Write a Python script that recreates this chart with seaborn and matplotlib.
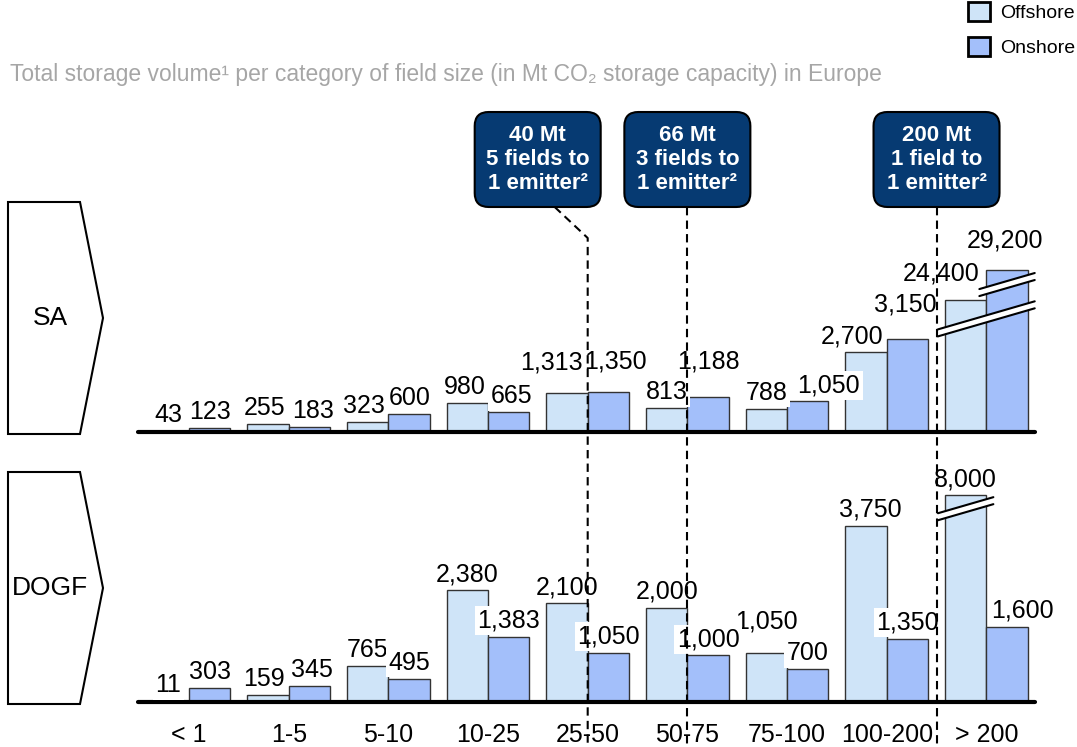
import numpy as np
import pandas as pd
import matplotlib.pyplot as plt
import seaborn as sns
from matplotlib.patches import Polygon, FancyBboxPatch, Patch
from matplotlib.lines import Line2D
from matplotlib.transforms import IdentityTransform

categories = ["< 1", "1-5", "5-10", "10-25", "25-50", "50-75", "75-100", "100-200", "> 200"]
sa_offshore = [43, 255, 323, 980, 1313, 813, 788, 2700, 24400]
sa_onshore = [123, 183, 600, 665, 1350, 1188, 1050, 3150, 29200]
dogf_offshore = [11, 159, 765, 2380, 2100, 2000, 1050, 3750, 8000]
dogf_onshore = [303, 345, 495, 1383, 1050, 1000, 700, 1350, 1600]

# bars of the "> 200" group are drawn cut (axis break), at these heights
sa_cap = {"Offshore": 4480, "Onshore": 5490}
dogf_cap = {"Offshore": 4400, "Onshore": 1e9}

callout_text = ["40 Mt\n5 fields to\n1 emitter\u00b2",
                "66 Mt\n3 fields to\n1 emitter\u00b2",
                "200 Mt\n1 field to\n1 emitter\u00b2"]
callout_pos = [4, 5, 7.5]

title = ("Total storage volume\u00b9 per category of field size "
         "(in Mt CO\u2082 storage capacity) in Europe")

colors = {"Offshore": "#cfe4f8", "Onshore": "#a3bffa"}
navy = "#063a72"

sns.set_theme(style="white")
plt.rcParams["font.family"] = ["Liberation Sans", "DejaVu Sans"]
plt.rcParams["text.color"] = "black"
plt.rcParams["xtick.color"] = "black"

W, H = 1077, 747
fig = plt.figure(figsize=(W / 100, H / 100), dpi=100)
ID = IdentityTransform()


def px_axes(left, top, right, bottom):
    return fig.add_axes([left / W, 1 - bottom / H, (right - left) / W, (bottom - top) / H])


def long_frame(off, on, cap):
    rows = []
    for kind, vals in (("Offshore", off), ("Onshore", on)):
        for c, v in zip(categories, vals):
            rows.append({"Category": c, "Type": kind, "Value": v, "Shown": min(v, cap[kind])})
    return pd.DataFrame(rows)


# label nudges in px (dx, dy up)
nudges = {
    ("SA", "Offshore", "1-5"): (-3, 0), ("SA", "Onshore", "1-5"): (4, 0),
    ("SA", "Offshore", "5-10"): (-4, 0), ("SA", "Onshore", "5-10"): (1, 0),
    ("SA", "Offshore", "10-25"): (-3, 0), ("SA", "Onshore", "10-25"): (3, 0),
    ("SA", "Offshore", "25-50"): (-16, 15), ("SA", "Onshore", "25-50"): (7, 15),
    ("SA", "Onshore", "50-75"): (0, 19), ("SA", "Onshore", "75-100"): (21, 0),
    ("SA", "Offshore", "100-200"): (-14, 0), ("SA", "Onshore", "100-200"): (-2, 19),
    ("SA", "Offshore", "> 200"): (-25, 10), ("SA", "Onshore", "> 200"): (-2, 14),
    ("DOGF", "Offshore", "1-5"): (-4, 0), ("DOGF", "Onshore", "1-5"): (3, 0),
    ("DOGF", "Offshore", "75-100"): (0, 15), ("DOGF", "Onshore", "> 200"): (15, 0),
    ("DOGF", "Offshore", "100-200"): (4, 0),
}

panels = [("SA", sa_offshore, sa_onshore, sa_cap, 432, 7000, 0.0295),
          ("DOGF", dogf_offshore, dogf_onshore, dogf_cap, 702, 5000, 0.047)]
axes = {}
for name, off, on, cap, base, ymax, scale in panels:
    ax = px_axes(138, base - ymax * scale, 1035, base)
    df = long_frame(off, on, cap)
    sns.barplot(data=df, x="Category", y="Shown", hue="Type", palette=colors,
                saturation=1, width=0.83, edgecolor="#333333", linewidth=1,
                legend=False, ax=ax)
    ax.set_xlim(-0.512, 8.488)
    ax.set_ylim(0, ymax)
    ax.axhline(0, color="black", lw=3, clip_on=False, zorder=5)
    for s in ax.spines.values():
        s.set_visible(False)
    ax.set_yticks([])
    ax.set_xlabel("")
    ax.set_ylabel("")
    ax.patch.set_alpha(0)
    if name == "DOGF":
        ax.set_xticks(range(len(categories)))
        ax.set_xticklabels(categories, fontsize=18)
        ax.tick_params(axis="x", length=0, pad=15)
    else:
        ax.set_xticks([])

    for kind, cont in zip(["Offshore", "Onshore"], ax.containers):
        vals = off if kind == "Offshore" else on
        for bar, c, v in zip(cont, categories, vals):
            dx, dy = nudges.get((name, kind, c), (0, 0))
            ax.annotate(f"{v:,}", xy=(bar.get_x() + bar.get_width() / 2, bar.get_height()),
                        xytext=(dx * 0.72, (4 + dy) * 0.72), textcoords="offset points",
                        ha="center", va="bottom", fontsize=18, zorder=6,
                        bbox=dict(boxstyle="square,pad=0.1", fc="white", ec="none"))
    axes[name] = ax

    # side label arrow
    top, bot = base - 230, base + 2
    mid = (top + bot) / 2
    fig.add_artist(Polygon([(8, H - top), (80, H - top), (103, H - mid), (80, H - bot), (8, H - bot)],
                           closed=True, fc="white", ec="black", lw=1.5, transform=ID))
    fig.text(50 / W, 1 - mid / H, name, ha="center", va="center", fontsize=19)


def axis_break(ax, bars, drop, slope=0.29, gap=7):
    x0 = min(ax.transData.transform((b.get_x(), 0))[0] for b in bars) - 7
    x1 = max(ax.transData.transform((b.get_x() + b.get_width(), 0))[0] for b in bars) + 7
    ref = bars[0]
    xc, ytop = ax.transData.transform((ref.get_x() + ref.get_width() / 2, ref.get_height()))
    yc = ytop - drop
    ya = yc + slope * (x0 - xc)
    yb = yc + slope * (x1 - xc)
    fig.add_artist(Polygon([(x0, ya + gap / 2), (x1, yb + gap / 2), (x1, yb - gap / 2), (x0, ya - gap / 2)],
                           closed=True, fc="white", ec="none", transform=ID, zorder=7))
    for s in (1, -1):
        fig.add_artist(Line2D([x0, x1], [ya + s * gap / 2, yb + s * gap / 2],
                              color="black", lw=1.5, transform=ID, zorder=8))


sa_off_bar = axes["SA"].containers[0][-1]
sa_on_bar = axes["SA"].containers[1][-1]
dogf_off_bar = axes["DOGF"].containers[0][-1]
axis_break(axes["SA"], [sa_off_bar, sa_on_bar], 25)
axis_break(axes["SA"], [sa_on_bar], 14.5)
axis_break(axes["DOGF"], [dogf_off_bar], 13.5)

# callouts + dashed guide lines
box_top, box_bot = 112, 207
for i, (txt, pos) in enumerate(zip(callout_text, callout_pos)):
    x = axes["DOGF"].transData.transform((pos, 0))[0]
    cx = x - 50 if i == 0 else x
    fig.add_artist(FancyBboxPatch((cx - 63, H - box_bot), 126, box_bot - box_top,
                                  boxstyle="round,pad=0,rounding_size=14", fc=navy, ec="black",
                                  lw=1.5, transform=ID, zorder=9))
    fig.text(cx / W, 1 - (box_top + box_bot) / 2 / H, txt, ha="center", va="center",
             color="white", fontsize=16, fontweight="bold", linespacing=1.2, zorder=10)
    if i == 0:
        xs, ys = [cx + 17, x, x], [H - box_bot, H - 238, 0]
    else:
        xs, ys = [x, x], [H - box_bot, 0]
    fig.add_artist(Line2D(xs, ys, color="black", lw=1.5, ls=(0, (4, 2.5)), transform=ID, zorder=8))

fig.text(10 / W, 1 - 75 / H, title, color="#a6a6a6", fontsize=16.5, ha="left", va="center")

handles = [Patch(fc=colors[k], ec="black", lw=2, label=k) for k in ("Offshore", "Onshore")]
fig.legend(handles=handles, loc="upper right", bbox_to_anchor=(1.0, 1.0), frameon=False,
           fontsize=14, handlelength=1.15, handleheight=1.15, handletextpad=0.5,
           labelspacing=0.75, borderaxespad=0.0, borderpad=0.1)

fig.savefig("out.png", dpi=100)
